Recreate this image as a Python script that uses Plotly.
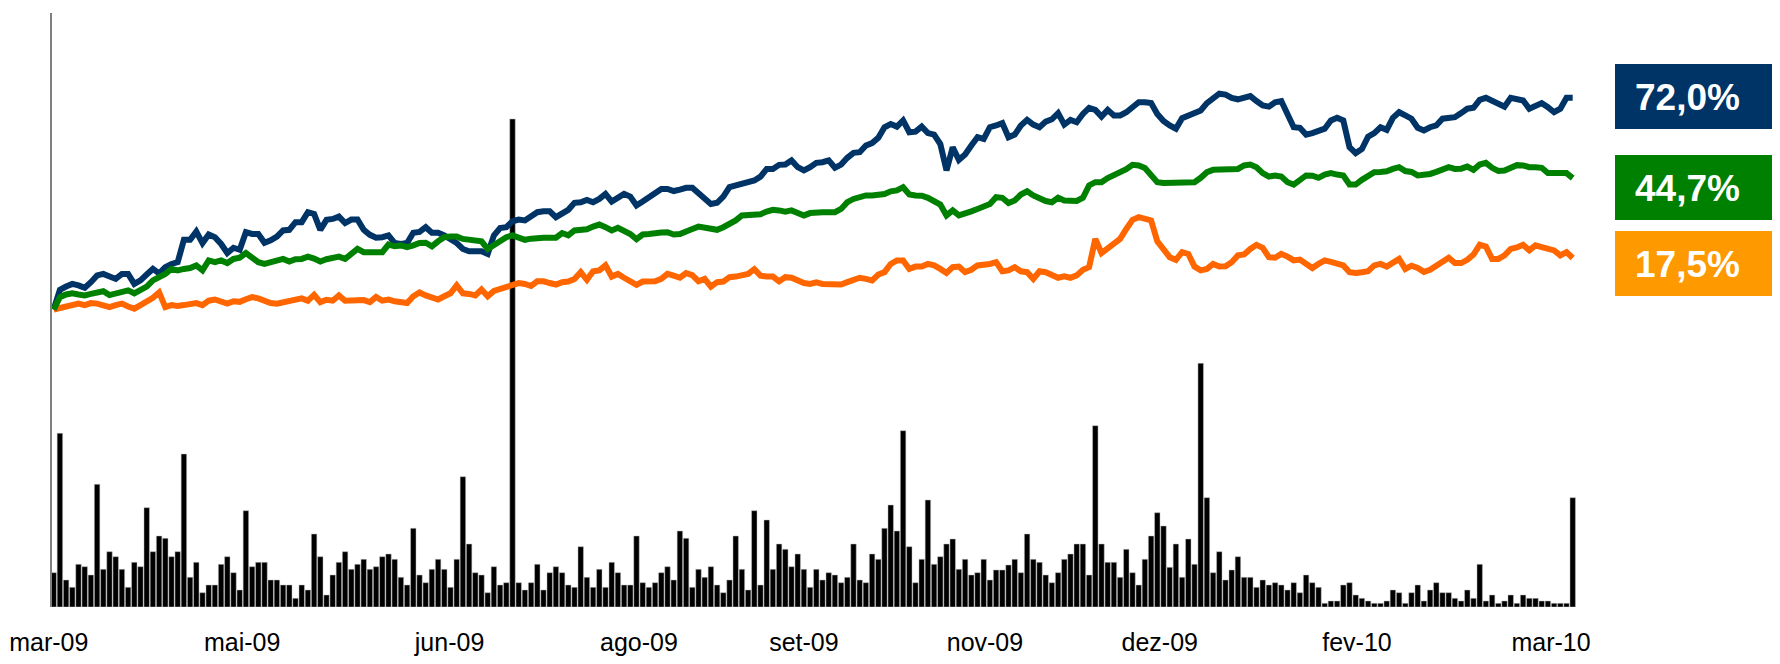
import plotly.graph_objects as go

# ---------------- data ----------------
day_index = list(range(246))

ret_navy = [0, 6.7, 7.8, 8.7, 8.2, 7.4, 9.3, 11.6, 12.1, 11.2, 10.4, 12.1, 12.1, 8.7, 9.9, 11.9, 13.8, 12.3, 14.4, 15.5,
            16.1, 23.7, 23.7, 26.5, 22.6, 25.5, 24.6, 22.3, 19.2, 21.0, 20.3, 26.3, 25.7, 25.7, 22.7, 23.5, 24.8, 26.9, 27.1, 29.7,
            29.7, 33.1, 32.5, 27.1, 30.5, 30.8, 31.6, 29.4, 30.6, 30.6, 27.1, 25.4, 24.4, 24.6, 25.2, 22.6, 22.3, 22.6, 26.1, 26.4,
            28.0, 26.1, 26.1, 25.2, 24.0, 22.6, 20.6, 19.8, 19.8, 19.8, 18.9, 25.2, 27.7, 28.0, 30.0, 30.6, 30.3, 31.6, 33.1, 33.4,
            33.4, 31.4, 32.8, 33.9, 36.3, 36.5, 37.3, 36.5, 37.6, 39.3, 36.7, 38.2, 39.3, 38.4, 35.4, 36.7, 38.0, 39.6, 41.0, 41.0,
            40.3, 40.8, 41.4, 41.4, 39.6, 37.6, 35.9, 36.3, 38.4, 41.6, 42.2, 43.0, 43.3, 43.9, 45.2, 47.8, 47.8, 49.2, 49.3, 50.7,
            48.4, 47.3, 48.4, 49.9, 50.1, 50.7, 48.2, 49.3, 51.6, 53.3, 53.5, 55.8, 56.6, 58.4, 62.0, 63.1, 62.2, 64.3, 60.3, 60.5,
            62.2, 60.0, 59.5, 56.3, 47.3, 55.2, 50.9, 52.7, 55.8, 58.6, 58.0, 62.0, 62.6, 63.4, 58.6, 59.5, 62.6, 64.5, 62.9, 62.0,
            63.9, 64.7, 66.8, 62.9, 64.5, 63.7, 66.5, 68.6, 67.9, 65.6, 67.9, 66.0, 66.0, 67.1, 68.8, 70.5, 70.5, 70.2, 66.5, 64.1,
            62.6, 61.5, 65.1, 66.0, 66.8, 67.7, 70.2, 71.9, 73.4, 73.1, 72.0, 71.5, 72.2, 72.6, 70.9, 69.4, 69.0, 70.5, 70.9, 66.5,
            62.0, 61.8, 59.5, 60.0, 60.9, 61.5, 64.3, 65.2, 64.3, 55.2, 53.2, 54.6, 58.8, 60.0, 62.0, 61.1, 65.2, 67.1, 66.0, 64.9,
            61.8, 60.9, 62.0, 62.6, 64.9, 65.4, 65.4, 66.8, 68.3, 68.6, 71.3, 72.0, 70.9, 70.0, 69.0, 72.0, 71.4, 71.1, 68.3, 69.0,
            70.2, 68.8, 67.1, 68.3, 72.0, 72.0]

ret_green = [0, 4.2, 5.1, 5.5, 5.1, 4.8, 5.3, 5.8, 6.2, 4.9, 5.5, 6.2, 6.5, 5.5, 6.7, 7.8, 9.9, 10.8, 12.1, 13.8,
             13.3, 13.8, 14.1, 15.0, 13.3, 16.7, 16.1, 16.7, 15.8, 17.2, 17.6, 19.2, 17.6, 16.1, 15.5, 16.1, 17.1, 17.2, 16.3, 17.1,
             17.2, 18.0, 17.3, 16.3, 17.1, 17.8, 18.0, 17.2, 18.7, 20.6, 19.5, 19.5, 19.5, 19.5, 22.1, 21.5, 21.8, 21.2, 21.8, 22.6,
             22.7, 21.5, 23.2, 24.6, 24.8, 24.8, 24.0, 23.7, 23.7, 23.2, 20.6, 22.0, 23.7, 24.6, 25.2, 24.6, 23.7, 24.1, 24.4, 24.4,
             24.4, 24.4, 26.0, 25.2, 26.9, 27.1, 27.3, 28.2, 28.9, 28.0, 26.9, 27.8, 26.6, 25.7, 23.9, 25.5, 25.7, 25.7, 26.2, 26.3,
             25.5, 25.7, 26.3, 27.4, 28.2, 27.8, 27.2, 27.1, 28.0, 29.1, 30.3, 32.0, 32.0, 32.3, 32.4, 33.3, 33.9, 33.7, 33.3, 33.7,
             32.8, 32.0, 32.8, 33.1, 33.1, 33.1, 33.1, 34.2, 36.5, 37.6, 38.2, 38.8, 38.8, 38.8, 39.3, 40.2, 40.5, 41.6, 39.1, 38.8,
             38.7, 38.0, 37.1, 35.7, 32.0, 33.7, 32.0, 32.5, 33.4, 34.2, 34.8, 35.9, 38.2, 38.0, 36.2, 37.1, 39.1, 40.2, 38.8, 37.8,
             36.9, 36.5, 38.0, 37.1, 37.1, 36.9, 38.0, 42.2, 43.3, 43.3, 44.7, 45.7, 46.4, 47.7, 49.2, 49.0, 48.1, 45.9, 43.3, 43.0,
             43.0, 43.0, 43.0, 43.0, 43.3, 44.8, 46.7, 47.5, 47.5, 47.5, 47.5, 47.8, 49.0, 49.3, 48.4, 46.4, 45.2, 45.6, 45.2, 43.3,
             42.5, 43.9, 45.6, 45.5, 44.8, 45.9, 46.4, 45.9, 45.6, 42.5, 42.5, 44.1, 45.7, 46.7, 46.8, 47.0, 47.8, 48.4, 47.1, 46.8,
             45.6, 45.6, 46.1, 46.8, 47.8, 48.4, 47.8, 47.9, 48.6, 47.5, 49.3, 49.9, 48.2, 47.1, 47.3, 48.4, 49.1, 49.0, 48.4, 48.4,
             48.2, 46.4, 46.4, 46.4, 46.4, 44.7]

ret_orange = [0, 0.5, 1.0, 2.0, 2.0, 1.5, 2.2, 2.0, 1.2, 0.8, 1.5, 2.0, 1.0, 0.3, 1.5, 2.5, 4.0, 5.8, 0.8, 1.5,
              1.2, 1.5, 1.8, 2.2, 1.5, 3.0, 3.4, 2.5, 2.0, 2.8, 2.6, 3.5, 4.2, 3.8, 2.8, 2.2, 2.0, 2.5, 2.8, 3.8,
              3.8, 3.0, 5.0, 2.5, 3.3, 3.0, 4.8, 3.0, 3.2, 3.2, 3.2, 2.5, 4.3, 3.0, 3.4, 2.8, 2.5, 2.2, 4.5, 5.8,
              4.8, 4.0, 3.4, 4.5, 5.5, 8.2, 5.5, 5.3, 4.8, 6.8, 4.5, 6.3, 7.0, 8.0, 8.5, 9.0, 8.7, 8.0, 9.6, 9.6,
              9.0, 8.5, 9.3, 9.5, 10.4, 12.7, 10.1, 13.0, 13.3, 15.0, 11.2, 12.1, 10.8, 9.3, 8.4, 9.5, 9.5, 9.6, 10.4, 12.1,
              11.5, 10.8, 12.4, 11.7, 9.6, 10.4, 7.8, 9.3, 9.5, 11.0, 11.2, 11.5, 12.1, 13.7, 11.5, 11.2, 11.2, 9.6, 11.0, 10.8,
              9.9, 9.0, 8.7, 9.2, 8.7, 8.5, 8.5, 8.5, 9.3, 10.3, 10.8, 10.4, 9.9, 11.9, 12.7, 15.5, 16.7, 16.7, 13.8, 14.6,
              14.6, 15.5, 15.0, 13.8, 12.4, 14.4, 14.6, 12.7, 13.5, 15.0, 15.0, 15.5, 16.1, 13.0, 13.3, 14.4, 13.0, 12.7, 10.4, 13.0,
              12.7, 11.6, 10.8, 11.3, 10.8, 11.6, 13.5, 14.4, 24.0, 19.2, 20.6, 22.3, 24.0, 27.4, 30.5, 31.4, 30.8, 30.3, 23.2, 20.3,
              17.8, 16.9, 19.5, 18.9, 14.6, 13.3, 13.8, 15.5, 14.6, 14.7, 16.1, 18.4, 18.7, 20.6, 22.0, 21.0, 17.8, 17.6, 18.9, 18.0,
              16.7, 17.0, 15.5, 14.1, 15.5, 16.7, 16.2, 15.8, 15.0, 12.7, 12.4, 12.7, 13.0, 15.0, 15.5, 14.6, 16.2, 17.2, 13.8, 14.9,
              14.1, 12.8, 13.5, 14.7, 16.4, 17.6, 15.8, 15.8, 16.9, 18.7, 22.0, 21.4, 17.2, 17.2, 18.4, 20.6, 21.1, 22.0, 20.1, 21.8,
              21.2, 20.9, 20.1, 18.4, 19.5, 17.5]

volume = [34.3, 173.7, 27, 19.7, 42.7, 40.3, 32, 122.7, 37.7, 55.3, 50.3, 37.7, 19.7, 44.7, 40.3, 99.3, 55.3, 71, 68.7, 50.3,
          55.3, 153, 29.7, 44.7, 14.3, 22, 22, 42.7, 50.3, 34.3, 17, 96.3, 40.3, 44.7, 44.7, 27, 27, 22, 22, 8.7,
          22, 17, 73, 50.3, 12, 32, 44.7, 55.3, 37.7, 42.7, 47.7, 37.7, 40.3, 50.3, 53, 47.7, 29.7, 22, 78.7, 32,
          24.3, 37.7, 47.7, 37.7, 19.7, 47.7, 130.3, 63, 34.3, 32, 14.3, 40.3, 22, 24.3, 488, 24.3, 17, 24.3, 42.7, 17,
          34.3, 40.3, 34.3, 22, 19.7, 60.3, 29.7, 19.7, 37.7, 19.7, 44.7, 34.3, 22, 22, 71, 24.3, 19.7, 24.3, 34.3, 40.3,
          27, 76, 68.7, 19.7, 37.7, 29.7, 40.3, 22, 14.3, 27, 71, 37.7, 17, 96.3, 22, 87, 37.7, 63, 57.7, 40.3,
          53, 37.7, 19.7, 37.7, 27, 34.3, 32, 24.3, 29.7, 63, 27, 24.3, 53, 47.7, 78.7, 102, 76, 176.3, 60.3, 24.3,
          47.7, 107, 42.7, 50.3, 63, 68, 37.7, 47.7, 32, 34.3, 47.7, 27, 37, 37, 42, 47.7, 34.3, 73, 47.7, 44.7,
          32, 24.3, 34.3, 47.7, 53, 63, 63, 32, 181.3, 63, 44.7, 44.7, 29.7, 57.7, 34.3, 22, 47.7, 71, 94.3, 81,
          39.7, 63, 29.7, 68, 42.7, 243.7, 109.3, 34.3, 55.3, 27, 37, 50.3, 29.7, 29.7, 19.7, 27, 22, 24.3, 22, 17,
          24.3, 14.3, 32, 24.3, 19.7, 3.7, 6, 6, 22, 24.3, 12, 8.7, 6, 3.7, 3.7, 6, 17, 14.3, 3.7, 14.3,
          22, 6, 17, 24.3, 14.3, 14.3, 8.7, 6, 17, 8.7, 42.7, 6, 12, 3.7, 6, 12, 3.7, 12, 8.7, 8.7,
          6, 6, 3.7, 3.7, 3.7, 109.3]

tick_labels = ["mar-09", "mai-09", "jun-09", "ago-09", "set-09", "nov-09", "dez-09", "fev-10", "mar-10"]
tick_index = [-0.8, 30.4, 63.85, 94.4, 121.0, 150.2, 178.4, 210.2, 241.5]

final_labels = ["72,0%", "44,7%", "17,5%"]

# ---------------- styling ----------------
NAVY_LINE, GREEN_LINE, ORANGE_LINE = "#003366", "#008000", "#FF6600"
NAVY_BOX, GREEN_BOX, ORANGE_BOX = "#003366", "#008000", "#FF9900"
FONT = "Liberation Sans, Arial, sans-serif"

# the page body has an 8px margin; the figure is sized so it fills the window exactly
OFF = 8
W, H = 1780 - OFF, 664 - OFF

# target layout in window pixels
PLOT_LEFT, PLOT_RIGHT, PLOT_TOP, PLOT_BOTTOM = 16, 1576, 13, 607
AXIS_X = 51
FIRST_BAR_X = 53.7
PX_PER_IDX = 6.2
ZERO_Y, PX_PER_PCT = 309.5, 2.94

L = PLOT_LEFT - OFF
R = W - (PLOT_RIGHT - OFF)
T = PLOT_TOP - OFF
B = H - (PLOT_BOTTOM - OFF)
plot_w = W - L - R
plot_h = H - T - B

X0_IDX = (PLOT_LEFT - FIRST_BAR_X) / PX_PER_IDX
X1_IDX = X0_IDX + plot_w / PX_PER_IDX


def px_x(px):
    return (px - PLOT_LEFT) / plot_w


def px_y(py):
    return (PLOT_BOTTOM - py) / plot_h


fig = go.Figure()
fig.add_trace(go.Bar(x=day_index, y=volume, yaxis="y",
                     marker=dict(color="#000000", line=dict(color="#bdbdbd", width=0.5)),
                     showlegend=False, hoverinfo="skip"))
for series, col in [(ret_orange, ORANGE_LINE), (ret_navy, NAVY_LINE), (ret_green, GREEN_LINE)]:
    fig.add_trace(go.Scatter(x=day_index, y=series, yaxis="y2", mode="lines",
                             line=dict(color=col, width=6, shape="linear"),
                             showlegend=False, hoverinfo="skip"))

shapes = []
annotations = []
boxes = [(64, 129, NAVY_BOX), (155, 220, GREEN_BOX), (231, 296, ORANGE_BOX)]
for (y_top, y_bot, col), txt in zip(boxes, final_labels):
    shapes.append(dict(type="rect", xref="paper", yref="paper",
                       x0=px_x(1615), x1=px_x(1790), y0=px_y(y_bot), y1=px_y(y_top),
                       fillcolor=col, line=dict(width=0), layer="above"))
    annotations.append(dict(xref="paper", yref="paper", x=px_x(1633), y=px_y((y_top + y_bot) / 2 + 1),
                            xanchor="left", yanchor="middle", showarrow=False, text=txt,
                            font=dict(family=FONT, size=37, color="white", weight="bold")))

fig.update_layout(
    width=W, height=H,
    margin=dict(l=L, r=R, t=T, b=B, pad=0, autoexpand=False),
    paper_bgcolor="white", plot_bgcolor="white",
    bargap=0.12,
    showlegend=False,
    xaxis=dict(range=[X0_IDX, X1_IDX], showgrid=False, zeroline=False, showline=False,
               automargin=False,
               tickmode="array", tickvals=tick_index, ticktext=tick_labels,
               ticks="outside", ticklen=13, tickcolor="rgba(0,0,0,0)",
               ticklabeloverflow="allow",
               tickfont=dict(family=FONT, size=25, color="#000000")),
    yaxis=dict(range=[0, plot_h], showgrid=False, zeroline=False, showticklabels=False,
               automargin=False,
               showline=True, linecolor="#7f7f7f", linewidth=1.5,
               anchor="free", position=px_x(AXIS_X), ticks=""),
    yaxis2=dict(range=[(ZERO_Y - PLOT_BOTTOM) / PX_PER_PCT, (ZERO_Y - PLOT_TOP) / PX_PER_PCT],
                overlaying="y", automargin=False,
                showgrid=False, zeroline=False, showticklabels=False, showline=False),
    shapes=shapes,
    annotations=annotations,
)

fig.write_html("out.html")
